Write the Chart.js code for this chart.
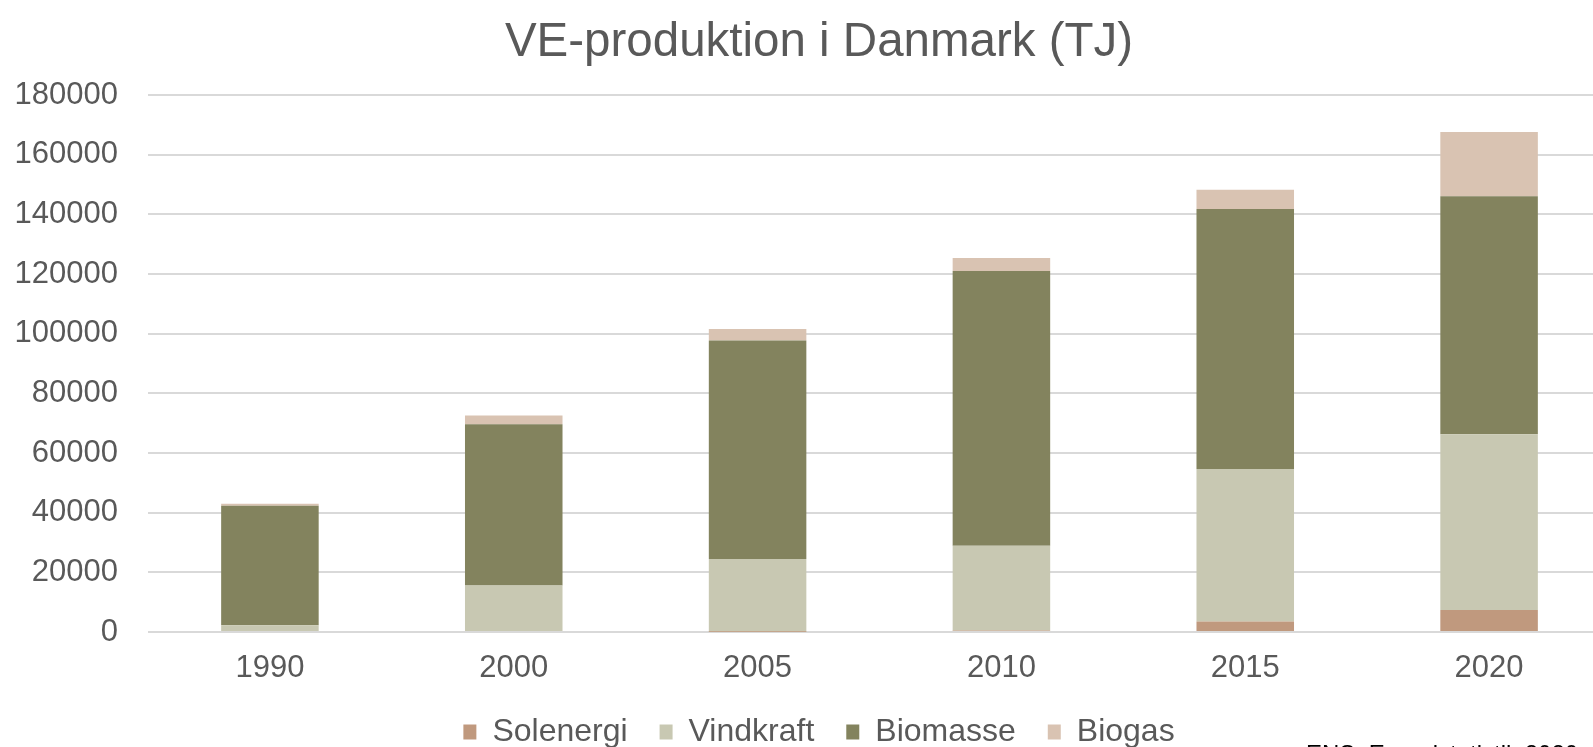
<!DOCTYPE html>
<html lang="da">
<head>
<meta charset="utf-8">
<title>VE-produktion i Danmark (TJ)</title>
<script src="https://cdn.jsdelivr.net/npm/chart.js@4.4.1/dist/chart.umd.min.js"></script>
<style>
  html, body { margin:0; padding:0; background:#fff; overflow:hidden; }
  .wrap { position:relative; width:1593px; height:747px; overflow:hidden; }
  #chart { position:absolute; left:0; top:0; }
  .source { position:absolute; left:1306px; top:742px; font:24px 'Liberation Sans', Arial, sans-serif; line-height:1; color:#000; white-space:nowrap; }
</style>
</head>
<body>
<div class="wrap">
  <!-- the original chart is wider/taller than the window and gets cropped -->
  <canvas id="chart" width="1663" height="758"></canvas>
  <div class="source">ENS, Energistatistik 2020</div>
</div>
<script>
/* ── Data (TJ) ── */
const years     = ['1990', '2000', '2005', '2010', '2015', '2020'];
const solenergi = [0, 0, 100, 500, 3500, 7400];
const vindkraft = [2300, 15600, 24400, 28400, 51100, 58900];
const biomasse  = [40000, 54000, 73200, 92100, 87200, 79800];
const biogas    = [700, 3000, 3900, 4400, 6400, 21500];
const yMax  = 180000;
const yStep = 20000;

/* ── Style ── */
const FONT = "'Liberation Sans', Arial, sans-serif";
const TEXT = '#595959';
const GRID = '#D9D9D9';

function series(label, data, color) {
  return { label, data, backgroundColor: color, borderWidth: 0, categoryPercentage: 1, barPercentage: 0.4 };
}

/* ── Chart ── */
new Chart(document.getElementById('chart'), {
  type: 'bar',
  data: {
    labels: years,
    datasets: [
      series('Solenergi', solenergi, '#C0997E'),
      series('Vindkraft', vindkraft, '#C8C8B2'),
      series('Biomasse',  biomasse,  '#83835E'),
      series('Biogas',    biogas,    '#D9C3B2')
    ]
  },
  options: {
    responsive: false,
    animation: false,
    layout: { padding: { left: 0, right: 25, top: 0, bottom: 0 } },
    plugins: {
      title: {
        display: true, text: 'VE-produktion i Danmark (TJ)', color: TEXT,
        font: { family: FONT, size: 47.5, weight: 'normal', lineHeight: 1.2 },
        padding: { top: 14, bottom: 24 }
      },
      legend: {
        position: 'bottom',
        labels: { color: TEXT, font: { family: FONT, size: 32 }, boxWidth: 13, boxHeight: 15, padding: 32 }
      },
      tooltip: { enabled: false }
    },
    scales: {
      x: {
        stacked: true,
        grid: { display: false, drawTicks: false },
        border: { display: false },
        ticks: { color: TEXT, font: { family: FONT, size: 31, lineHeight: 1 }, padding: 21 },
        afterFit: s => { s.height = 52; s.paddingRight = 52; }
      },
      y: {
        stacked: true, min: 0, max: yMax,
        grid: { color: GRID, lineWidth: 2, drawTicks: false },
        border: { display: false },
        ticks: { stepSize: yStep, color: TEXT, font: { family: FONT, size: 31 }, padding: 30, callback: v => String(v) },
        afterFit: s => { s.width = 148; }
      }
    }
  }
});
</script>
</body>
</html>
